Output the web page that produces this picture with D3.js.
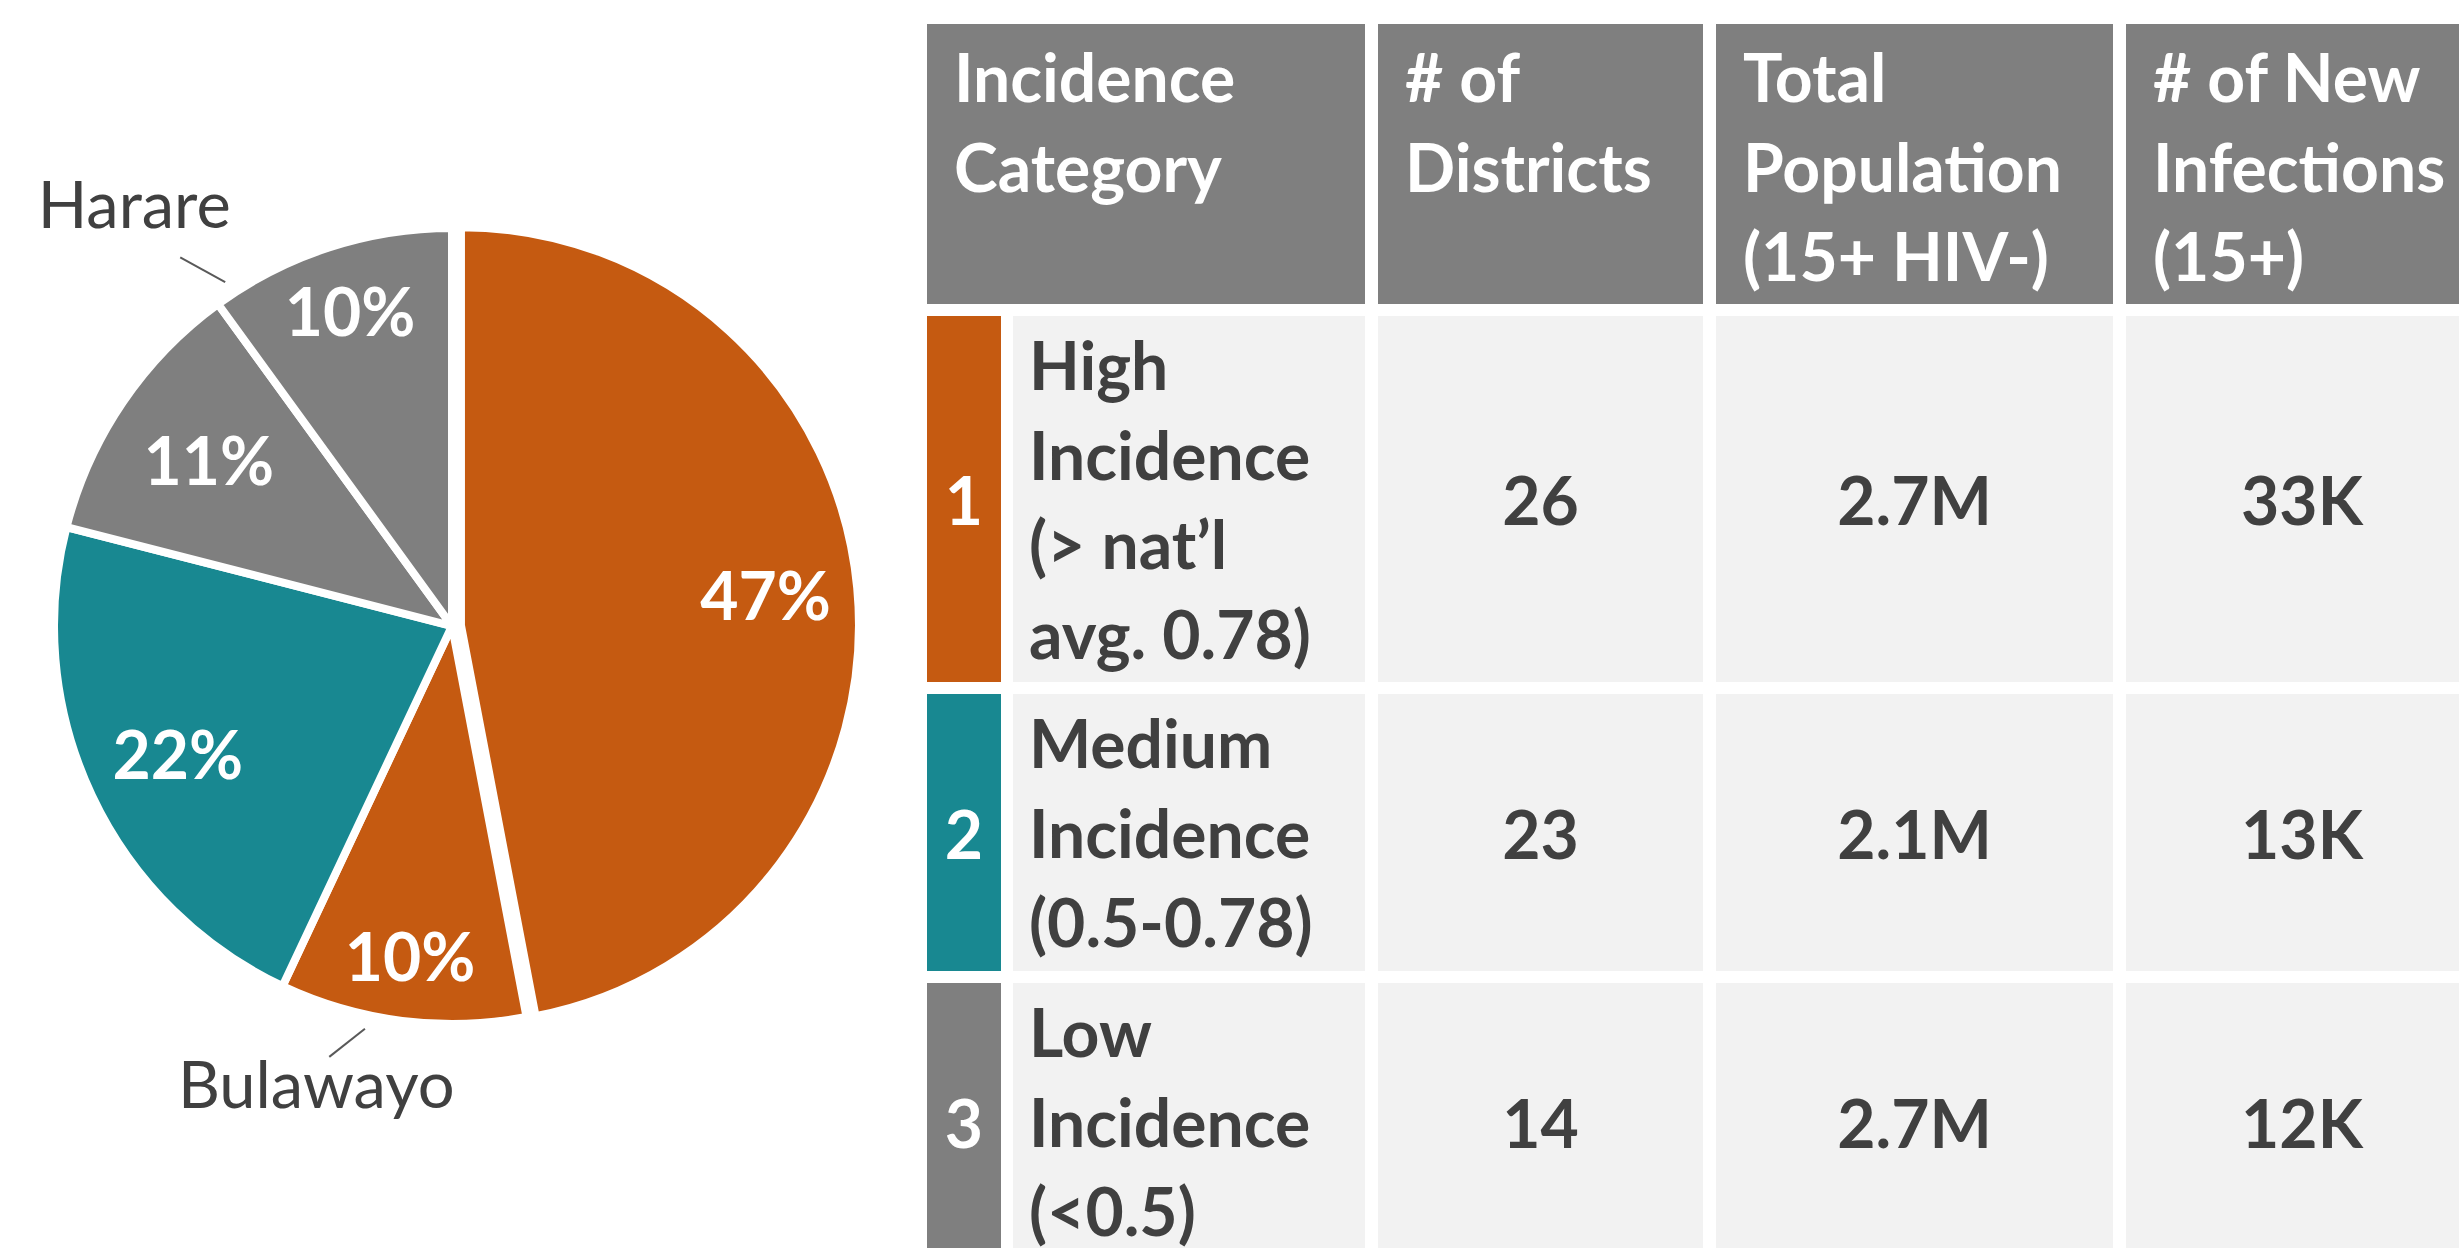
<!DOCTYPE html>
<html>
<head>
<meta charset="utf-8">
<title>Incidence categories</title>
<script src="https://d3js.org/d3.v7.min.js"></script>
<style>
  body { margin: 0; background: #fff; }
  svg { display: block; font-family: Lato, "Open Sans", sans-serif; }
</style>
</head>
<body>
<svg id="chart" width="2459" height="1248"></svg>
<script>
// pie: share of new infections by group
var sliceNames = ["High", "Bulawayo", "Medium", "Low", "Harare"];
var sliceValues = [47, 10, 22, 11, 10];
var sliceColors = ["#c55a11", "#c55a11", "#188891", "#7f7f7f", "#7f7f7f"];

// table
var headerLines = [["Incidence", "Category"], ["# of", "Districts"], ["Total", "Population", "(15+ HIV-)"], ["# of New", "Infections", "(15+)"]];
var categoryIds = ["1", "2", "3"];
var categoryLines = [["High", "Incidence", "(> nat\u2019l", "avg. 0.78)"], ["Medium", "Incidence", "(0.5-0.78)"], ["Low", "Incidence", "(<0.5)"]];
var categoryColors = ["#c55a11", "#188891", "#7f7f7f"];
var districts = ["26", "23", "14"];
var population = ["2.7M", "2.1M", "2.7M"];
var newInfections = ["33K", "13K", "12K"];

var svg = d3.select("#chart");
var fs = 66;          // font size
var dark = "#404040";

// ---------- pie ----------
var cx = 452, cy = 626, r = 398, explode = 9;
var toRad = Math.PI / 180;
function polar(deg, rad) { return [cx + rad * Math.sin(deg * toRad), cy - rad * Math.cos(deg * toRad)]; }

var arcs = d3.pie().sort(null).value(function(d){ return d; })(sliceValues);
var arc = d3.arc().innerRadius(0).outerRadius(r);
// label distance from centre, per slice (layout only)
var labelRadius = [306, 334, 303, 294, 330];

function shift(d, i) {
  if (i != 0) return [0, 0];
  var mid = (d.startAngle + d.endAngle) / 2;
  return [explode * Math.sin(mid), -explode * Math.cos(mid)];
}
function labelPos(d, i) {
  var c = d3.arc().innerRadius(labelRadius[i]).outerRadius(labelRadius[i]).centroid(d);
  var s = shift(d, i);
  return [c[0] + s[0], c[1] + s[1]];
}

var pie = svg.append("g").attr("transform", "translate(" + cx + "," + cy + ")");
pie.selectAll("path").data(arcs).enter().append("path")
  .attr("d", arc)
  .attr("transform", function(d, i){ var s = shift(d, i); return "translate(" + s[0] + "," + s[1] + ")"; })
  .attr("fill", function(d, i){ return sliceColors[i]; })
  .attr("stroke", "#fff")
  .attr("stroke-width", 8)
  .attr("stroke-linejoin", "miter");

pie.selectAll("text").data(arcs).enter().append("text")
  .attr("x", function(d, i){ return labelPos(d, i)[0]; })
  .attr("y", function(d, i){ return labelPos(d, i)[1] + 24; })
  .attr("text-anchor", "middle")
  .attr("fill", "#fff")
  .attr("font-weight", 700)
  .attr("font-size", fs)
  .text(function(d){ return d.value + "%"; });

// callouts for the two cities (leader angles in degrees, layout only)
var callouts = [
  { name: "Harare", a0: 326.6, r0: 412, a1: 323.6, r1: 458, dx: -46, dy: -29 },
  { name: "Bulawayo", a0: 192.2, r0: 412, a1: 195.9, r1: 448, dx: -13, dy: 51 }
];
callouts.forEach(function(c){
  var p0 = polar(c.a0, c.r0), p1 = polar(c.a1, c.r1);
  svg.append("line")
    .attr("x1", p0[0]).attr("y1", p0[1]).attr("x2", p1[0]).attr("y2", p1[1])
    .attr("stroke", "#595959").attr("stroke-width", 2);
  svg.append("text")
    .attr("x", p1[0] + c.dx).attr("y", p1[1] + c.dy)
    .attr("text-anchor", "middle")
    .attr("fill", dark)
    .attr("font-size", 65)
    .text(sliceNames[sliceNames.indexOf(c.name)]);
});

// ---------- table ----------
var colX = [927, 1378, 1716, 2126];
var colW = [438, 325, 397, 352];
var gap = 12, lineH = 89.5;
var headTop = 24, headH = 280;
var barW = 74;

var head = svg.append("g");
head.selectAll("rect").data(headerLines).enter().append("rect")
  .attr("x", function(d, i){ return colX[i]; })
  .attr("y", headTop)
  .attr("width", function(d, i){ return colW[i]; })
  .attr("height", headH)
  .attr("fill", "#7f7f7f");

head.selectAll("text").data(headerLines).enter().append("text")
  .attr("fill", "#fff")
  .attr("font-weight", 700)
  .attr("font-size", fs)
  .each(function(lines, i){
    d3.select(this).selectAll("tspan").data(lines).enter().append("tspan")
      .attr("x", colX[i] + 27)
      .attr("y", function(t, j){ return headTop + 78 + j * lineH; })
      .text(function(t){ return t; });
  });

// rows stacked below the header
var rowTop = [], rowH = [];
var y0 = headTop + headH + gap;
categoryLines.forEach(function(lines){
  var h = lines.length * 89 + 10;
  rowTop.push(y0); rowH.push(h);
  y0 += h + gap;
});

var rows = svg.selectAll("g.row").data(categoryIds).enter().append("g").attr("class", "row");

rows.append("rect")
  .attr("x", colX[0]).attr("y", function(d, i){ return rowTop[i]; })
  .attr("width", barW).attr("height", function(d, i){ return rowH[i]; })
  .attr("fill", function(d, i){ return categoryColors[i]; });

rows.append("text")
  .attr("x", colX[0] + barW / 2)
  .attr("y", function(d, i){ return rowTop[i] + rowH[i] / 2 + 26; })
  .attr("text-anchor", "middle")
  .attr("fill", "#fff").attr("font-weight", 700).attr("font-size", fs)
  .text(function(d){ return d; });

rows.append("rect")
  .attr("x", colX[0] + barW + gap).attr("y", function(d, i){ return rowTop[i]; })
  .attr("width", colW[0] - barW - gap).attr("height", function(d, i){ return rowH[i]; })
  .attr("fill", "#f2f2f2");

rows.append("text")
  .attr("fill", dark).attr("font-weight", 700).attr("font-size", fs)
  .each(function(d, i){
    d3.select(this).selectAll("tspan").data(categoryLines[i]).enter().append("tspan")
      .attr("x", colX[0] + barW + gap + 16)
      .attr("y", function(t, j){ return rowTop[i] + 74 + j * lineH; })
      .text(function(t){ return t; });
  });

var valueCols = [districts, population, newInfections];
valueCols.forEach(function(vals, k){
  var c = k + 1;
  rows.append("rect")
    .attr("x", colX[c]).attr("y", function(d, i){ return rowTop[i]; })
    .attr("width", colW[c]).attr("height", function(d, i){ return rowH[i]; })
    .attr("fill", "#f2f2f2");
  rows.append("text")
    .attr("x", colX[c] + colW[c] / 2)
    .attr("y", function(d, i){ return rowTop[i] + rowH[i] / 2 + 26; })
    .attr("text-anchor", "middle")
    .attr("fill", dark).attr("font-weight", 700).attr("font-size", fs)
    .text(function(d, i){ return vals[i]; });
});
</script>
</body>
</html>
